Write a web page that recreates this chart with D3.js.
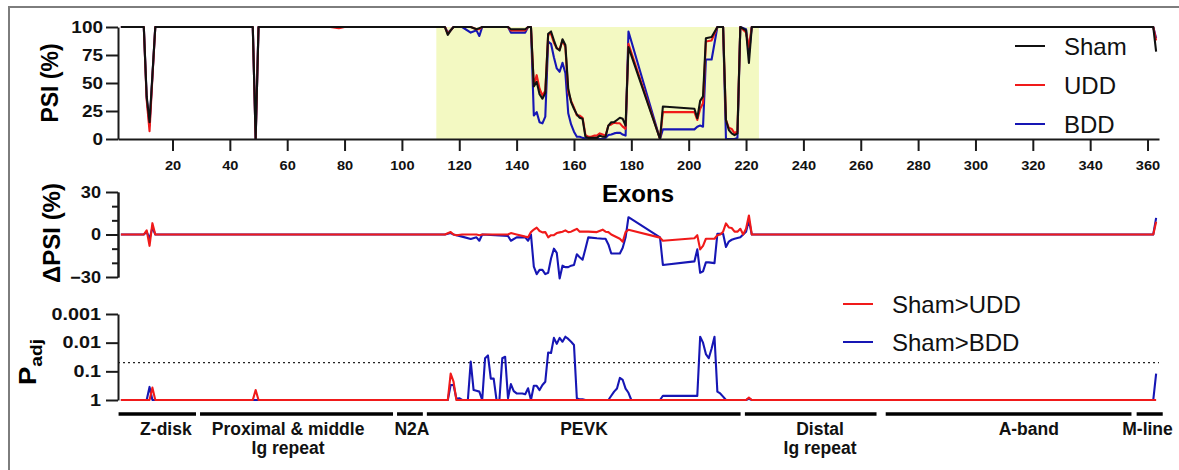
<!DOCTYPE html>
<meta charset="utf-8">
<body style="margin:0;background:#fff">
<svg id="chart"></svg>
<script src="https://cdn.jsdelivr.net/npm/d3@7/dist/d3.min.js"></script>
<script>

// ---- data ----

// top panel: PSI (%) per exon
const psiExon = [2,10,11,12,13,14,48,49,50,75,78,80,115,116,117,118,121,124,126,127,128,
  137,138,143,144,145,146,147,148,149,150,151,152,153,154,155,156,157,158,159,160,161,162,
  163,164,165,166,167,168,169,170,171,172,173,174,175,176,177,178,179,190,191,202,203,204,
  205,206,208,210,212,213,214,215,216,217,218,220,221,222,362,363]
const psiSham = [100,100,38,15,57,100,100,0,100,100,100,100,100,93,97,100,100,100,98,99,100,
  100,98,98,100,100,47,51,40,36,41,94,96,88,81,79,89,84,45,33,27,22,19,18,2,1,1,1,1,
  3,2,2,12,15,15,17,19,18,12,82,0,29,27,18.5,34,38,
  90,91,100,100,17,8,5,3.5,5,100,97,68,100,100,78]
const psiUDD = [100,100,35,7,55,100,100,0,100,100,99,100,100,94,97,100,100,100,98,98,100,
  100,97,97,100,100,48,57,45,39,43,93,94,86,81,80,88,82,42,34,28,21,21,19,3.5,2,2,3,3,
  5,4,3,12,13,14.6,14,14,11,9,85,0,24,24,17,27,32,
  87,88,100,100,17,10,9,5,7,100,95,82,100,100,88]
const psiBDD = [100,100,37,12,56,100,100,0,100,100,100,100,100,95,97,100,100,95,97,92,100,
  100,95,95,100,100,21,24,15,14,20,87,85,73,63,60,68,59,23,13,6.5,2,2,1,0.5,0,0,0,0,
  0,0,1,3.5,4,5,5.5,5.6,4,3,96,0,8.6,8.6,11,12,11,
  71,71,100,100,0,0,0,0,1,100,98,76,100,100,90]

// middle panel: delta PSI (%) vs Sham
const dExon = [2,10,11,12,13,14,115,117,118,119,121,124,126,127,128,137,138,140,143,144,145,
  146,147,148,149,150,151,152,153,154,155,156,157,158,159,160,161,162,163,164,165,
  168,170,171,172,173,176,177,178,179,190,191,202,203,204,205,206,207,209,
  210,211,212,213,214,215,216,217,218,219,220,221,222,362,363]
const dUDD = [0,0,3,-8,8,0,0,1.7,0,-0.5,0,0,0,-0.5,0,0,1,0,-1.5,-1.9,1.7,
  3.5,4.9,2.5,1.5,1.7,-2,-0.5,-0.5,1,1.5,2,2.9,1.7,2,3,4,2,2,2,2,
  1.7,3.4,2,1.7,0,-3,-5.1,1.7,3.4,-2.2,-4.4,-2.7,-0.5,-10.5,-8,-3,-3,-3,
  -0.5,0,2,7.8,5,4.6,2,2,4,0,4,13.4,0,0,9]
const dBDD = [0,0,2,-3,5,0,0,1,0,-0.5,-1.5,-3.2,-2,-4.4,0,-1,-4.4,-2,-2,-4.4,0,
  -22.7,-28,-25,-25,-28,-27,-17,-10,-13,-31,-22,-23,-23,-22,-21.5,-14,-16,-17.8,-10,-2,
  -2.7,-3,-3,-7,-13.4,-13.4,-9.3,-2,12.2,-2,-21.5,-19,-10.5,-27,-26,-19.7,-19.7,-20.2,
  0.5,0.5,0.5,-8.8,-5,-3.7,-3,-2.5,-2,0,2,10,0,0,11.7]

// bottom panel: adjusted p values
const pExonUDD = [2,12,13,14,48,49,50,116,117,118,119,220,221,222,363]
const pUDD = [1,1,0.37,1,1,0.45,1,1,0.12,0.23,1,1,0.83,1,1]
const pExonBDD = [2,11,12,13,116,117,118,119,120,121,123,124,125,126,127,128,129,130,131,132,
  133,134,135,136,137,138,139,140,141,142,143,144,145,146,147,148,149,150,151,152,153,154,
  155,156,157,158,159,160,161,162,163,164,172,173,174,175,176,177,178,179,180,190,191,203,
  204,205,206,207,208,209,210,211,212,213,220,221,222,362,363]
const pBDD = [1,1,0.35,1,1,0.30,0.30,0.9,0.87,1,1,0.046,0.45,0.48,0.51,1,0.035,0.028,0.18,0.18,
  1,1,0.035,0.031,0.87,0.28,0.49,0.59,0.59,0.59,0.63,0.39,1,0.32,0.32,0.45,0.30,0.23,0.022,0.023,0.0068,0.011,
  0.0068,0.0093,0.0062,0.0074,0.0093,0.012,0.87,0.95,0.95,1,1,0.71,0.51,0.40,0.17,0.20,0.40,0.56,1,1,0.71,0.72,
  0.0062,0.01,0.025,0.035,0.016,0.0062,0.51,0.59,0.76,1,1,0.9,1,1,0.12]
const pCut = 0.05

// titin regions (exon spans) and where their labels sit
const regionNames = [["Z-disk"], ["Proximal & middle", "Ig repeat"], ["N2A"], ["PEVK"],
  ["Distal", "Ig repeat"], ["A-band"], ["M-line"]]
const regionStart = [1.2, 29.6, 98.3, 108.7, 219.6, 268.7, 356.2]
const regionEnd = [28.2, 96.9, 107.3, 218.1, 265.5, 354.4, 365.3]
const regionLabelAt = [17.7, 60.3, 103.5, 163.5, 245.8, 318.6, 360]
const shadeExons = [112, 224.5]

// ticks
const exonTicks = [20,40,60,80,100,120,140,160,180,200,220,240,260,280,300,320,340,360]
const psiTicks = [0,25,50,75,100]
const dTicks = [-30,0,30]
const dMinor = [-20,-10,10,20]
const pTicks = [1,0.1,0.01,0.001]

const colors = {sham: '#111111', udd: '#f01a1a', bdd: '#1616b4', axis: '#1a1a1a'}

// ---- drawing ----

const W = 1179, H = 470
const svg = d3.select('#chart')
  .attr('width', W).attr('height', H)
  .style('font-family', "Arial, 'Liberation Sans', sans-serif")

// grey frame (top + left)
svg.append('line').attr('x1', 8).attr('x2', W).attr('y1', 7).attr('y2', 7)
  .attr('stroke', '#7d7d7d').attr('stroke-width', 2)
svg.append('line').attr('x1', 9).attr('x2', 9).attr('y1', 7).attr('y2', H)
  .attr('stroke', '#7d7d7d').attr('stroke-width', 2)

const x = d3.scaleLinear().domain([1, 364]).range([118, 1159])
const yPsi = d3.scaleLinear().domain([0, 100]).range([139, 27])
const yD = d3.scaleLinear().domain([-30, 30]).range([277, 192])
const yP = d3.scaleLog().domain([1, 0.001]).range([400, 314])

// stretch tick labels a bit horizontally, the figure font is wide
function styleAxis(g, size, k) {
  g.select('.domain').attr('stroke', colors.axis).attr('stroke-width', 2)
  g.selectAll('.tick line').attr('stroke', colors.axis).attr('stroke-width', 2)
  g.selectAll('.tick text')
    .attr('fill', '#111').style('font-size', size + 'px').style('font-weight', 'bold')
    .each(function () {
      const t = d3.select(this)
      t.attr('x', (+t.attr('x') || 0) / k).attr('transform', `scale(${k},1)`)
    })
}

// PEVK shading
svg.append('rect')
  .attr('x', x(shadeExons[0])).attr('width', x(shadeExons[1]) - x(shadeExons[0]))
  .attr('y', yPsi(100)).attr('height', yPsi(0) - yPsi(100))
  .attr('fill', '#f3f9c2')

// top panel lines
const linePsi = d3.line().x(d => x(d[0])).y(d => yPsi(d[1]))
;[[psiBDD, colors.bdd], [psiUDD, colors.udd], [psiSham, colors.sham]].forEach(([vals, c]) => {
  svg.append('path').datum(d3.zip(psiExon, vals))
    .attr('d', linePsi).attr('fill', 'none').attr('stroke', c)
    .attr('stroke-width', 2.1).attr('stroke-linejoin', 'round')
})

svg.append('g').attr('transform', `translate(0,${yPsi(0)})`)
  .call(d3.axisBottom(x).tickValues(exonTicks).tickSize(12).tickPadding(9).tickSizeOuter(0))
  .call(g => styleAxis(g, 13.5, 1.08))
svg.append('g').attr('transform', `translate(${x(1)},0)`)
  .call(d3.axisLeft(yPsi).tickValues(psiTicks).tickSize(12).tickPadding(3).tickSizeOuter(0))
  .call(g => styleAxis(g, 16.5, 1.15))

// middle panel
const lineD = d3.line().x(d => x(d[0])).y(d => yD(d[1]))
;[[dBDD, colors.bdd], [dUDD, colors.udd]].forEach(([vals, c]) => {
  svg.append('path').datum(d3.zip(dExon, vals))
    .attr('d', lineD).attr('fill', 'none').attr('stroke', c)
    .attr('stroke-width', 2.1).attr('stroke-linejoin', 'round')
})
svg.append('g').attr('transform', `translate(${x(1)},0)`)
  .call(d3.axisLeft(yD).tickValues(dMinor).tickSize(6).tickFormat('').tickSizeOuter(0))
  .call(g => styleAxis(g, 16, 1.1))
svg.append('g').attr('transform', `translate(${x(1)},0)`)
  .call(d3.axisLeft(yD).tickValues(dTicks).tickSize(12).tickPadding(5).tickSizeOuter(0))
  .call(g => styleAxis(g, 16.5, 1.1))

// bottom panel
svg.append('line')
  .attr('x1', x(1)).attr('x2', x(364)).attr('y1', yP(pCut)).attr('y2', yP(pCut))
  .attr('stroke', '#222').attr('stroke-width', 1.3).attr('stroke-dasharray', '2,3')
const lineP = d3.line().x(d => x(d[0])).y(d => yP(d[1]))
;[[pExonBDD, pBDD, colors.bdd], [pExonUDD, pUDD, colors.udd]].forEach(([ex, vals, c]) => {
  svg.append('path').datum(d3.zip(ex, vals))
    .attr('d', lineP).attr('fill', 'none').attr('stroke', c)
    .attr('stroke-width', 2.1).attr('stroke-linejoin', 'round')
})
svg.append('g').attr('transform', `translate(${x(1)},0)`)
  .call(d3.axisLeft(yP).tickValues(pTicks).tickFormat(d => String(d)).tickSize(12).tickPadding(5).tickSizeOuter(0))
  .call(g => styleAxis(g, 16.5, 1.2))

// axis titles
svg.append('text').attr('transform', 'translate(50,83) rotate(-90)')
  .attr('text-anchor', 'middle').attr('dy', '0.36em')
  .style('font-size', '23px').style('font-weight', 'bold').text('PSI (%)')
svg.append('text').attr('transform', 'translate(51,233) rotate(-90)')
  .attr('text-anchor', 'middle').attr('dy', '0.36em')
  .style('font-size', '24px').style('font-weight', 'bold').text('ΔPSI (%)')
const padj = svg.append('text').attr('transform', 'translate(28,362) rotate(-90) scale(1.2,1)')
  .attr('text-anchor', 'middle').attr('dy', '0.36em')
  .style('font-size', '23px').style('font-weight', 'bold')
padj.append('tspan').text('P')
padj.append('tspan').attr('dy', 6).style('font-size', '16px').text('adj')
svg.append('text').attr('x', 638).attr('y', 202).attr('text-anchor', 'middle')
  .style('font-size', '24px').style('font-weight', 'bold').text('Exons')

// legends
function legend(items, x0, ys) {
  items.forEach(([label, c], i) => {
    svg.append('line').attr('x1', x0).attr('x2', x0 + 30).attr('y1', ys[i]).attr('y2', ys[i])
      .attr('stroke', c).attr('stroke-width', 2)
    svg.append('text').attr('x', x0 + 49).attr('y', ys[i] + 8.5)
      .style('font-size', '24px').attr('fill', '#111').text(label)
  })
}
legend([['Sham', colors.sham], ['UDD', colors.udd], ['BDD', colors.bdd]], 1015, [46, 85, 124])
legend([['Sham>UDD', colors.udd], ['Sham>BDD', colors.bdd]], 843, [304, 342])

// region bars + labels
regionNames.forEach((lines, i) => {
  svg.append('line')
    .attr('x1', x(regionStart[i])).attr('x2', x(regionEnd[i]))
    .attr('y1', 414).attr('y2', 414)
    .attr('stroke', '#000').attr('stroke-width', 3.5)
  lines.forEach((s, j) => {
    svg.append('text').attr('x', x(regionLabelAt[i])).attr('y', 435 + j * 18.5)
      .attr('text-anchor', 'middle').attr('fill', '#111')
      .style('font-size', '17.5px').style('font-weight', 'bold').text(s)
  })
})

</script>
